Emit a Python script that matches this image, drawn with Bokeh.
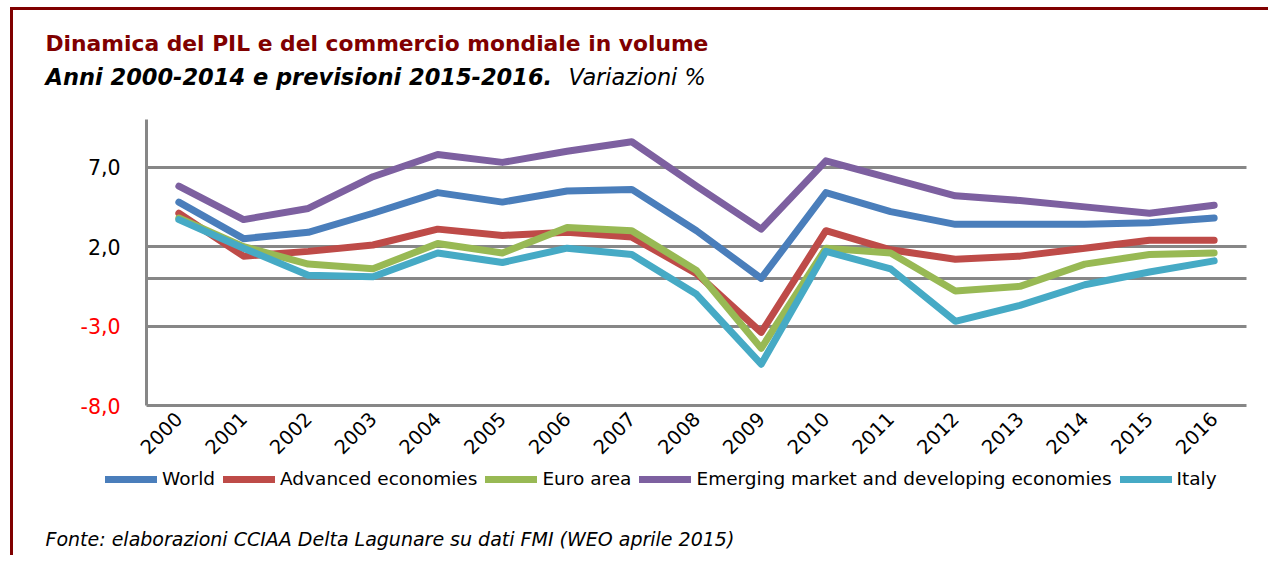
from bokeh.plotting import figure
from bokeh.models import (FixedTicker, LinearAxis, Legend, LegendItem, Label, Grid,
                          Range1d, CustomJSTickFormatter)
from bokeh.embed import file_html
from bokeh.resources import INLINE
from math import pi

# ---- data ----
years = [str(y) for y in range(2000, 2017)]
world = [4.8, 2.5, 2.9, 4.1, 5.4, 4.8, 5.5, 5.6, 3.0, 0.0, 5.4, 4.2, 3.4, 3.4, 3.4, 3.5, 3.8]
advanced = [4.1, 1.4, 1.7, 2.1, 3.1, 2.7, 2.9, 2.6, 0.3, -3.4, 3.0, 1.8, 1.2, 1.4, 1.9, 2.4, 2.4]
euro_area = [3.8, 2.0, 0.9, 0.6, 2.2, 1.6, 3.2, 3.0, 0.5, -4.4, 1.9, 1.6, -0.8, -0.5, 0.9, 1.5, 1.6]
emerging = [5.8, 3.7, 4.4, 6.4, 7.8, 7.3, 8.0, 8.6, 5.8, 3.1, 7.4, 6.3, 5.2, 4.9, 4.5, 4.1, 4.6]
italy = [3.7, 1.9, 0.2, 0.1, 1.6, 1.0, 1.9, 1.5, -1.0, -5.4, 1.7, 0.6, -2.7, -1.7, -0.4, 0.4, 1.1]

series_names = ["World", "Advanced economies", "Euro area",
                "Emerging market and developing economies", "Italy"]
series_values = [world, advanced, euro_area, emerging, italy]
series_colors = ["#4A7EBB", "#BE4B48", "#98B954", "#7D60A0", "#46AAC5"]

pos_ticks = [2, 7]
neg_ticks = [-8, -3]
grid_ticks = [-3, 0, 2, 7]
y_min, y_max = -8, 10

title_text = "Dinamica del PIL e del commercio mondiale in volume"
subtitle_bold = "Anni 2000-2014 e previsioni 2015-2016."
subtitle_plain = "Variazioni %"
source_text = "Fonte: elaborazioni CCIAA Delta Lagunare su dati FMI (WEO aprile 2015)"

GRID = "#878787"
DARKRED = "#800000"
FONT = "DejaVu Sans"

# layout geometry (pixels)
W, H = 1258, 548              # canvas
PLOT_L, PLOT_R = 133, 1233    # category area inside canvas
PLOT_T, PLOT_B = 109, 395     # value area inside canvas

n = len(years)
xs = [i + 0.5 for i in range(n)]
xppu = (PLOT_R - PLOT_L) / n
yppu = (PLOT_B - PLOT_T) / (y_max - y_min)
x_range = Range1d(-PLOT_L / xppu, n + (W - PLOT_R) / xppu)
y_range = Range1d(y_min - (H - PLOT_B) / yppu, y_max + PLOT_T / yppu)

p = figure(x_range=x_range, y_range=y_range, width=W, height=H, title=None,
           x_axis_type=None, y_axis_type=None,
           min_border_left=0, min_border_right=0, min_border_top=0, min_border_bottom=0,
           output_backend="svg", toolbar_location=None)
p.styles = {"border-left": f"3px solid {DARKRED}", "border-top": f"3px solid {DARKRED}",
            "margin-left": "10px", "margin-top": "7px"}
p.outline_line_color = None
p.background_fill_color = "white"
p.border_fill_color = "white"

fmt = CustomJSTickFormatter(code="return tick.toFixed(1).replace('.', ',');")
xfmt = CustomJSTickFormatter(args=dict(years=years),
                             code="return years[Math.floor(tick)];")

# horizontal grid lines, limited to the category area
if "cross_bounds" in Grid.properties():
    grid = Grid(dimension=1, ticker=FixedTicker(ticks=grid_ticks),
                cross_bounds=(0, n), grid_line_color=GRID, grid_line_width=3)
    p.add_layout(grid)
else:
    p.segment(x0=[0] * len(grid_ticks), x1=[n] * len(grid_ticks), y0=grid_ticks,
              y1=grid_ticks, line_color=GRID, line_width=3)

common_y = dict(fixed_location=0, bounds=(y_min, y_max), formatter=fmt,
                major_tick_line_color=None, minor_tick_line_color=None,
                major_tick_out=0, major_tick_in=0, major_label_standoff=26,
                major_label_text_font=FONT, major_label_text_font_size="20.5px")
yaxis_pos = LinearAxis(ticker=FixedTicker(ticks=pos_ticks), axis_line_color=GRID,
                       axis_line_width=3, major_label_text_color="black", **common_y)
yaxis_neg = LinearAxis(ticker=FixedTicker(ticks=neg_ticks), axis_line_color=None,
                       major_label_text_color="#FF0000", **common_y)
p.add_layout(yaxis_pos, "left")
p.add_layout(yaxis_neg, "left")

xaxis = LinearAxis(fixed_location=y_min, bounds=(0, n), ticker=FixedTicker(ticks=xs),
                   formatter=xfmt, axis_line_color=GRID, axis_line_width=3,
                   major_tick_line_color=None, minor_tick_line_color=None,
                   major_tick_out=0, major_tick_in=0,
                   major_label_orientation=pi / 4, major_label_standoff=10,
                   major_label_text_font=FONT, major_label_text_font_size="19.5px",
                   major_label_text_color="black")
p.add_layout(xaxis, "below")

items = []
for name, vals, col in zip(series_names, series_values, series_colors):
    r = p.line(x=xs, y=vals, line_color=col, line_width=7,
               line_cap="round", line_join="round")
    items.append(LegendItem(label=name, renderers=[r]))

legend = Legend(items=items, orientation="horizontal", location=(92, H - 479),
                glyph_width=52, glyph_height=20, label_standoff=5, spacing=8,
                padding=0, margin=0, border_line_color=None,
                background_fill_alpha=0, label_text_font=FONT,
                label_text_font_size="18.5px", label_text_color="black")
p.add_layout(legend)

# texts (screen units from the bottom-left corner of the plot area = canvas)
p.add_layout(Label(x=32, y=H - 33, x_units="screen", y_units="screen", text=title_text,
                   text_font=FONT, text_font_style="bold", text_font_size="21.8px",
                   text_color=DARKRED, text_baseline="alphabetic"))
p.add_layout(Label(x=32, y=H - 66, x_units="screen", y_units="screen", text=subtitle_bold,
                   text_font=FONT, text_font_style="bold italic", text_font_size="22.5px",
                   text_color="black", text_baseline="alphabetic"))
p.add_layout(Label(x=555, y=H - 66, x_units="screen", y_units="screen", text=subtitle_plain,
                   text_font=FONT, text_font_style="italic", text_font_size="22.4px",
                   text_color="black", text_baseline="alphabetic"))
p.add_layout(Label(x=32, y=H - 528, x_units="screen", y_units="screen", text=source_text,
                   text_font=FONT, text_font_style="italic", text_font_size="19px",
                   text_color="black", text_baseline="alphabetic"))

open("out.html", "w").write(file_html(p, INLINE))
